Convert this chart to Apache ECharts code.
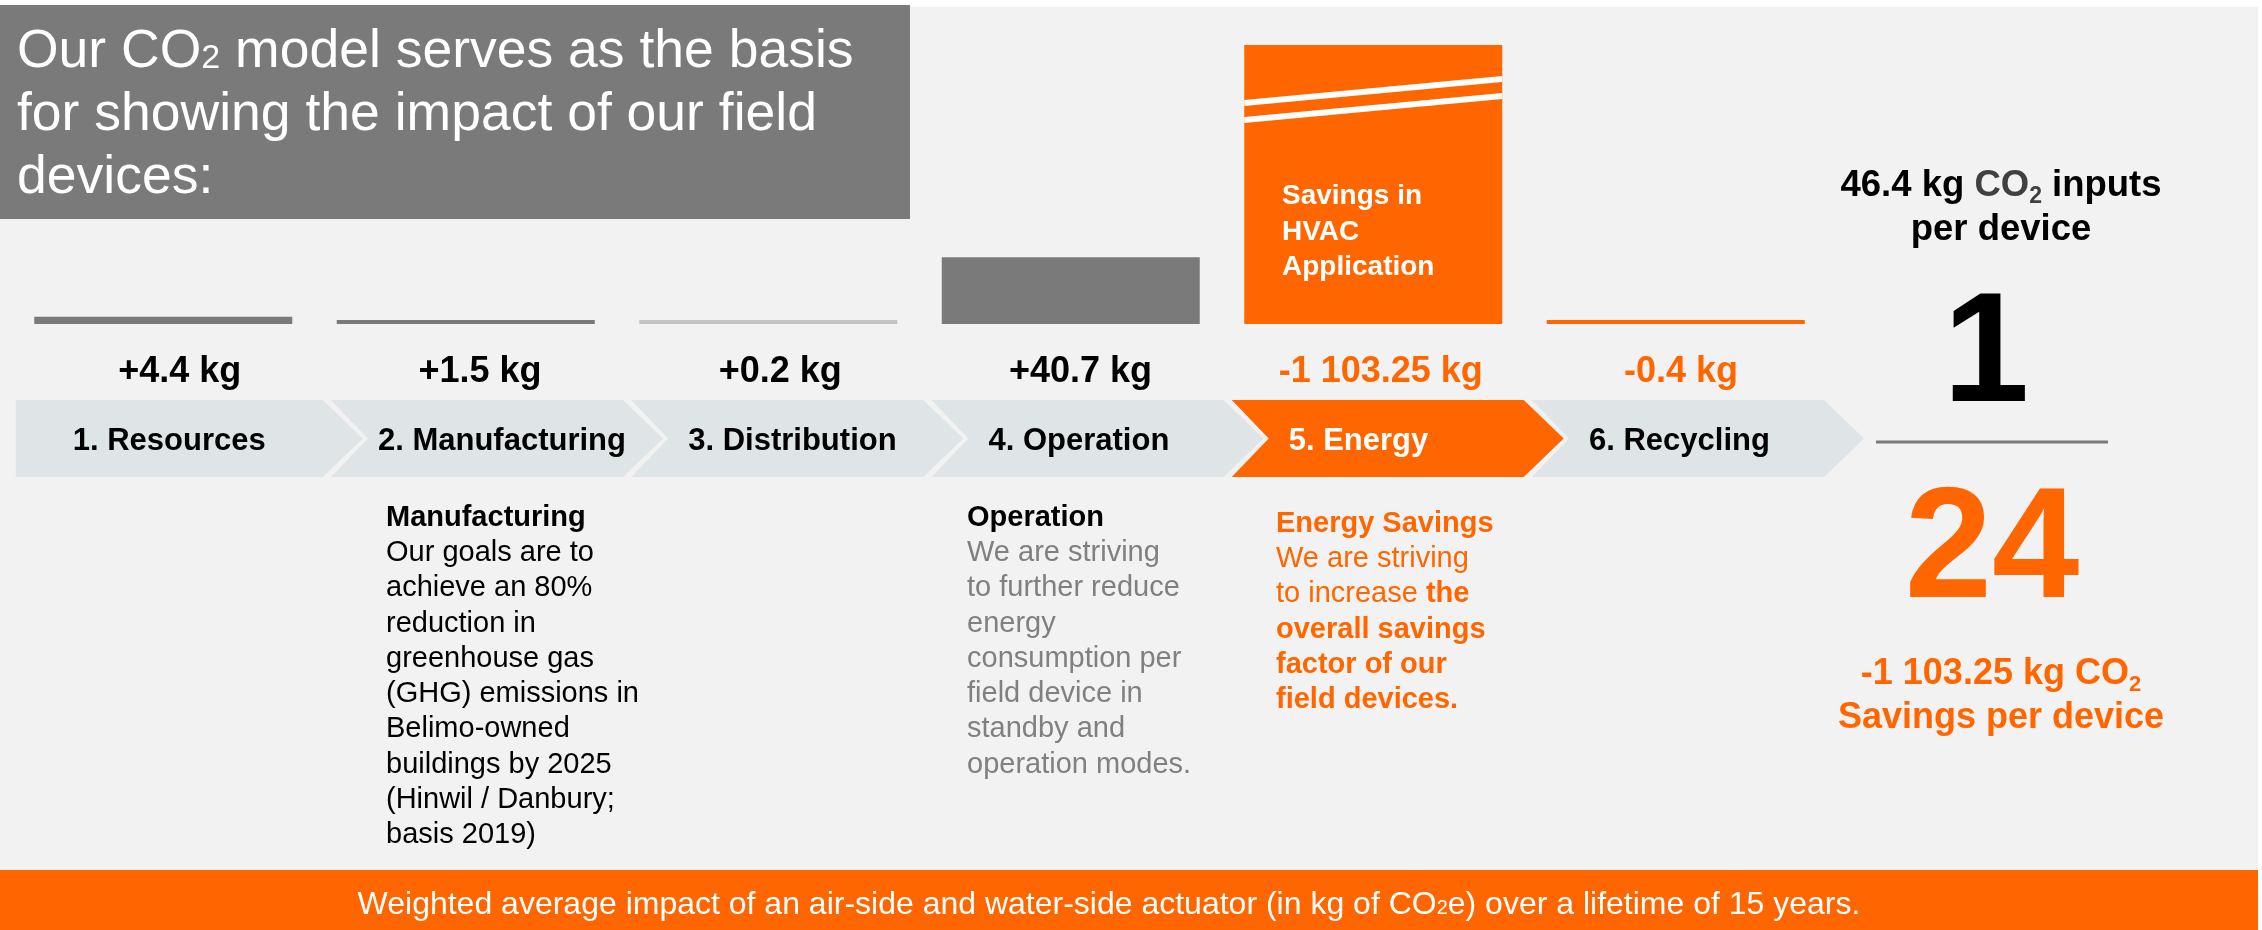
<!DOCTYPE html>
<html>
<head>
<meta charset="utf-8">
<title>CO2 model of field devices</title>
<script src="https://cdn.jsdelivr.net/npm/echarts@6/dist/echarts.min.js"></script>
<style>
html, body { margin: 0; padding: 0; background: #fff; }
#chart { width: 2262px; height: 930px; }
</style>
</head>
<body>
<div id="chart"></div>
<script>
// life-cycle stages and their CO2 impact per device (kg)
const stages = ['1. Resources', '2. Manufacturing', '3. Distribution', '4. Operation', '5. Energy', '6. Recycling']
const impactKg = [4.4, 1.5, 0.2, 40.7, -1103.25, -0.4]
const impactLabels = ['+4.4 kg', '+1.5 kg', '+0.2 kg', '+40.7 kg', '-1 103.25 kg', '-0.4 kg']

// summary on the right
const inputsPerDevice = '46.4'
const savingsPerDevice = '-1 103.25'
const ratioTop = '1'
const ratioBottom = '24'

const FONT = "'Liberation Sans', Arial, Helvetica, sans-serif"
const ORANGE = '#ff6600'
const GREY = '#7a7a7a'
const CHEVRON = '#dfe4e7'

const barColors = [GREY, GREY, '#c4c4c4', GREY, ORANGE, ORANGE]
const axisMax = 170

const measureCtx = document.createElement('canvas').getContext('2d')
function textWidth(text, font) {
  measureCtx.font = font
  return measureCtx.measureText(text).width
}

// chevron arrows with stage names and the kg values above them
function renderChevron(params, api) {
  const i = api.value(0)
  const top = api.coord([i, 1])
  const bottom = api.coord([i, 0])
  const cx = top[0]
  const y0 = top[1]
  const y1 = bottom[1]
  const ym = (y0 + y1) / 2
  const first = i === 0
  const L = first ? cx - 181 : cx - 166
  const R = cx + 126
  const tip = cx + 166
  const pts = first
    ? [[L, y0], [R, y0], [tip, ym], [R, y1], [L, y1]]
    : [[L, y0], [R, y0], [tip, ym], [R, y1], [L, y1], [L + 37, ym]]
  const highlight = impactKg[i] < -100
  const labelFont = 'bold 31px ' + FONT
  const w = textWidth(stages[i], labelFont)
  const labelX = Math.min(L + 57, R + 3 - w)
  return {
    type: 'group',
    children: [
      {
        type: 'polygon',
        shape: { points: pts },
        style: { fill: highlight ? ORANGE : CHEVRON },
      },
      {
        type: 'text',
        style: {
          text: stages[i],
          x: labelX,
          y: ym + 3,
          font: labelFont,
          fill: highlight ? '#fff' : '#000',
          align: 'left',
          verticalAlign: 'middle',
        },
      },
      {
        type: 'text',
        style: {
          text: impactLabels[i],
          x: cx - 17,
          y: y0 - 28,
          font: 'bold 36px ' + FONT,
          fill: impactKg[i] < 0 ? ORANGE : '#000',
          align: 'center',
          verticalAlign: 'middle',
        },
      },
    ],
  }
}

// white break marks on bars that run past the axis
function renderBreak(params, api) {
  const top = api.coord([api.value(0), axisMax])
  const w = api.size([1, 0])[0] * 0.853
  const L = top[0] - w / 2
  const R = top[0] + w / 2
  const y = top[1]
  return {
    type: 'group',
    children: [
      {
        type: 'polygon',
        shape: { points: [[L, y + 55], [R, y + 31], [R, y + 37], [L, y + 61]] },
        style: { fill: '#fff' },
      },
      {
        type: 'polygon',
        shape: { points: [[L, y + 72], [R, y + 48], [R, y + 54], [L, y + 78]] },
        style: { fill: '#fff' },
      },
    ],
  }
}

const chart = echarts.init(document.getElementById('chart'))

const option = {
  animation: false,
  backgroundColor: '#f2f2f2',
  textStyle: { fontFamily: FONT },
  grid: [
    { left: 12, top: 45, width: 1815, height: 279 },
    { left: 46.6, top: 400, width: 1801.5, height: 77 },
  ],
  xAxis: [
    { type: 'category', data: stages, gridIndex: 0, show: false },
    { type: 'category', data: stages, gridIndex: 1, show: false },
  ],
  yAxis: [
    { type: 'value', gridIndex: 0, min: 0, max: axisMax, show: false },
    { type: 'value', gridIndex: 1, min: 0, max: 1, show: false },
  ],
  series: [
    {
      type: 'bar',
      xAxisIndex: 0,
      yAxisIndex: 0,
      barWidth: 258,
      barMinHeight: 4,
      silent: true,
      z: 2,
      data: impactKg.map((v, i) => ({ value: Math.abs(v), itemStyle: { color: barColors[i] } })),
    },
    {
      type: 'custom',
      xAxisIndex: 0,
      yAxisIndex: 0,
      silent: true,
      clip: false,
      z: 6,
      renderItem: renderBreak,
      encode: { x: 0, y: 1 },
      data: impactKg.map((v, i) => [i, Math.abs(v)]).filter((d) => d[1] > axisMax),
    },
    {
      type: 'custom',
      xAxisIndex: 1,
      yAxisIndex: 1,
      silent: true,
      clip: false,
      renderItem: renderChevron,
      data: stages.map((s, i) => [i, 1]),
    },
  ],
  graphic: [
    // white margins of the slide
    { type: 'rect', shape: { x: 0, y: 0, width: 2262, height: 7 }, style: { fill: '#fff' }, z: 1 },
    { type: 'rect', shape: { x: 2258, y: 0, width: 4, height: 930 }, style: { fill: '#fff' }, z: 1 },
    // title box
    { type: 'rect', shape: { x: 0, y: 5, width: 910, height: 214 }, style: { fill: GREY }, z: 2 },
    {
      type: 'text',
      x: 17,
      y: 21,
      z: 3,
      style: {
        text: '{t|Our CO}{s|2}{t| model serves as the basis}\n{t|for showing the impact of our field}\n{t|devices:}',
        rich: {
          t: { font: '53.5px ' + FONT, fill: '#fff', lineHeight: 63 },
          s: { font: '34px ' + FONT, fill: '#fff', verticalAlign: 'bottom', padding: [0, 0, 8, 0] },
        },
      },
    },
    // text inside the energy bar
    {
      type: 'text',
      x: 1282,
      y: 179,
      z: 3,
      style: {
        text: 'Savings in\nHVAC\nApplication',
        font: 'bold 28px ' + FONT,
        fill: '#fff',
        lineHeight: 35.5,
      },
    },
    // descriptions
    {
      type: 'text',
      x: 386,
      y: 500,
      z: 3,
      style: {
        text: [
          '{h|Manufacturing}',
          '{r|Our goals are to}',
          '{r|achieve an 80%}',
          '{r|reduction in}',
          '{r|greenhouse gas}',
          '{r|(GHG) emissions in}',
          '{r|Belimo-owned}',
          '{r|buildings by 2025}',
          '{r|(Hinwil / Danbury;}',
          '{r|basis 2019)}',
        ].join('\n'),
        rich: {
          h: { font: 'bold 29px ' + FONT, fill: '#000', lineHeight: 35.3 },
          r: { font: '29px ' + FONT, fill: '#000', lineHeight: 35.3 },
        },
      },
    },
    {
      type: 'text',
      x: 967,
      y: 500,
      z: 3,
      style: {
        text: [
          '{h|Operation}',
          '{r|We are striving}',
          '{r|to further reduce}',
          '{r|energy}',
          '{r|consumption per}',
          '{r|field device in}',
          '{r|standby and}',
          '{r|operation modes.}',
        ].join('\n'),
        rich: {
          h: { font: 'bold 29px ' + FONT, fill: '#000', lineHeight: 35.3 },
          r: { font: '29px ' + FONT, fill: '#808080', lineHeight: 35.3 },
        },
      },
    },
    {
      type: 'text',
      x: 1276,
      y: 506,
      z: 3,
      style: {
        text: [
          '{h|Energy Savings}',
          '{r|We are striving}',
          '{r|to increase }{h|the}',
          '{h|overall savings}',
          '{h|factor of our}',
          '{h|field devices.}',
        ].join('\n'),
        rich: {
          h: { font: 'bold 29px ' + FONT, fill: ORANGE, lineHeight: 35.3 },
          r: { font: '29px ' + FONT, fill: ORANGE, lineHeight: 35.3 },
        },
      },
    },
    // summary on the right
    {
      type: 'text',
      x: 2001,
      y: 164,
      z: 3,
      style: {
        text: '{b|' + inputsPerDevice + ' kg }{g|CO}{gs|2}{b| inputs}\n{b|per device}',
        align: 'center',
        rich: {
          b: { font: 'bold 36.5px ' + FONT, fill: '#000', lineHeight: 44 },
          g: { font: 'bold 36.5px ' + FONT, fill: '#404040', lineHeight: 44 },
          gs: { font: 'bold 23px ' + FONT, fill: '#404040', verticalAlign: 'bottom' },
        },
      },
    },
    {
      type: 'text',
      x: 1986,
      y: 358,
      z: 3,
      style: {
        text: ratioTop,
        font: 'bold 155px ' + FONT,
        fill: '#000',
        align: 'center',
        verticalAlign: 'middle',
      },
    },
    {
      type: 'line',
      z: 3,
      shape: { x1: 1876, y1: 442, x2: 2108, y2: 442 },
      style: { stroke: GREY, lineWidth: 3 },
    },
    {
      type: 'text',
      x: 1992,
      y: 554,
      z: 3,
      style: {
        text: ratioBottom,
        font: 'bold 157px ' + FONT,
        fill: ORANGE,
        align: 'center',
        verticalAlign: 'middle',
      },
    },
    {
      type: 'text',
      x: 2001,
      y: 652,
      z: 3,
      style: {
        text: '{o|' + savingsPerDevice + ' kg CO}{os|2}\n{o|Savings per device}',
        align: 'center',
        rich: {
          o: { font: 'bold 36px ' + FONT, fill: ORANGE, lineHeight: 44 },
          os: { font: 'bold 22px ' + FONT, fill: ORANGE, verticalAlign: 'bottom' },
        },
      },
    },
    // footer band
    { type: 'rect', shape: { x: 0, y: 870, width: 2258, height: 60 }, style: { fill: ORANGE }, z: 2 },
    {
      type: 'text',
      x: 1109,
      y: 905,
      z: 3,
      style: {
        text: '{f|Weighted average impact of an air-side and water-side actuator (in kg of CO}{fs|2}{f|e) over a lifetime of 15 years.}',
        align: 'center',
        verticalAlign: 'middle',
        rich: {
          f: { font: '32px ' + FONT, fill: '#fff', lineHeight: 36 },
          fs: { font: '20px ' + FONT, fill: '#fff', verticalAlign: 'bottom', padding: [0, 0, 5, 0] },
        },
      },
    },
  ],
}

chart.setOption(option)
</script>
</body>
</html>
